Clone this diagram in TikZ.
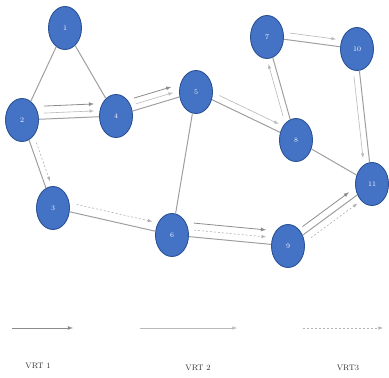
\documentclass[tikz,border=0pt]{standalone}
\usetikzlibrary{arrows,shapes.geometric}
\definecolor{cityblue}{RGB}{68,114,196}
\definecolor{cityrim}{RGB}{42,82,150}
\begin{document}
\begin{tikzpicture}[x=1pt,y=-1pt,>=latex,
	city/.style={ellipse,draw=cityrim,line width=0.9pt,fill=cityblue,minimum width=33pt,minimum height=43pt,inner sep=0pt,text=white,font=\scriptsize},
	road/.style={gray!75,line width=1pt},
	vrta/.style={->,gray!90,line width=0.8pt,shorten <=5pt,shorten >=5pt},
	vrtb/.style={->,gray!55,line width=0.6pt,shorten <=5pt,shorten >=5pt},
	vrtc/.style={->,gray!60,line width=0.6pt,dash pattern=on 2pt off 2pt,shorten <=5pt,shorten >=5pt},
	shiftby/.style 2 args={transform canvas={xshift=#1,yshift=#2}},
	tag/.style={font=\footnotesize,text=black!80}]
			\useasboundingbox (0,0) rectangle (389,378);
			\node [city] (n1) at (65,28) {1};
			\node [city] (n2) at (22,120) {2};
			\node [city] (n3) at (53,208) {3};
			\node [city] (n4) at (116,116) {4};
			\node [city] (n5) at (196,92) {5};
			\node [city] (n6) at (172,235) {6};
			\node [city] (n7) at (267,37) {7};
			\node [city] (n8) at (296,140) {8};
			\node [city] (n9) at (288,246) {9};
			\node [city] (n10) at (357,49) {10};
			\node [city] (n11) at (372,184) {11};
			\draw [road] (n1) -- (n2) (n1) -- (n4) (n2) -- (n4) (n4) -- (n5) (n2) -- (n3) (n3) -- (n6);
			\draw [road] (n6) -- (n9) (n5) -- (n6) (n5) -- (n8) (n7) -- (n8) (n7) -- (n10) (n10) -- (n11);
			\draw [road] (n8) -- (n11) (n9) -- (n11);
			\draw [vrta, shiftby={0pt}{13pt}] (n2) -- (n4);
			\draw [vrtb, shiftby={0pt}{6pt}] (n2) -- (n4);
			\draw [vrta, shiftby={-3.4pt}{11.5pt}] (n4) -- (n5);
			\draw [vrtb, shiftby={-1.7pt}{5.7pt}] (n4) -- (n5);
			\draw [vrtb, shiftby={3pt}{6.3pt}] (n5) -- (n8);
			\draw [vrtb, shiftby={-5.8pt}{-1.6pt}] (n8) -- (n7);
			\draw [vrtb, shiftby={0.9pt}{6.9pt}] (n7) -- (n10);
			\draw [vrtb, shiftby={-6pt}{-0.7pt}] (n10) -- (n11);
			\draw [vrtc, shiftby={5.7pt}{2pt}] (n2) -- (n3);
			\draw [vrtc, shiftby={2pt}{8.5pt}] (n3) -- (n6);
			\draw [vrta, shiftby={0pt}{14pt}] (n6) -- (n9);
			\draw [vrtc, shiftby={0pt}{7pt}] (n6) -- (n9);
			\draw [vrta, shiftby={-4.2pt}{5.6pt}] (n9) -- (n11);
			\draw [vrtc, shiftby={4.2pt}{-5.6pt}] (n9) -- (n11);
			% legend
			\coordinate (a1) at (12,328);
			\coordinate (b1) at (73,328);
			\coordinate (a2) at (140,328);
			\coordinate (b2) at (237,328);
			\coordinate (a3) at (303,328);
			\coordinate (b3) at (383,328);
			\draw [vrta, shorten <=0pt, shorten >=0pt] (a1) -- (b1);
			\draw [vrtb, shorten <=0pt, shorten >=0pt] (a2) -- (b2);
			\draw [vrtc, shorten <=0pt, shorten >=0pt] (a3) -- (b3);
			\node [tag] (t1) at (38,366) {VRT 1};
			\node [tag] (t2) at (198,368) {VRT 2};
			\node [tag] (t3) at (348,368) {VRT3};
\end{tikzpicture}
\end{document}
